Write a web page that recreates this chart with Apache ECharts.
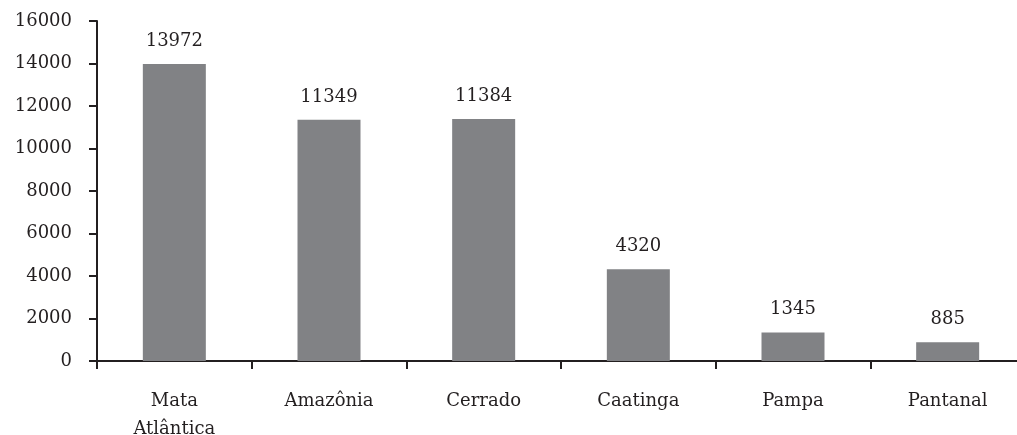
<!DOCTYPE html>
<html><head><meta charset="utf-8">
<script src="https://cdn.jsdelivr.net/npm/echarts@6/dist/echarts.min.js"></script>
<style>html,body{margin:0;padding:0;background:#fff}#c{width:1017px;height:435px}</style>
</head><body><div id="c"></div>
<script>
const categories = ['Mata\nAtlântica', 'Amazônia', 'Cerrado', 'Caatinga', 'Pampa', 'Pantanal'];
const values = [13972, 11349, 11384, 4320, 1345, 885];
const yTicks = { min: 0, max: 16000, interval: 2000 };

const font = 'DejaVu Serif';
const chart = echarts.init(document.getElementById('c'), null, { renderer: 'canvas' });
chart.setOption({
  animation: false,
  backgroundColor: '#fff',
  grid: { left: 97, top: 21, width: 928, height: 340, containLabel: false, outerBoundsMode: 'none' },
  xAxis: {
    type: 'category',
    data: categories,
    axisLine: { lineStyle: { color: '#231f20', width: 2 } },
    axisTick: { show: true, length: 8, lineStyle: { color: '#231f20', width: 2 }, alignWithLabel: false },
    axisLabel: { color: '#231f20', fontFamily: font, fontSize: 18, margin: 26, lineHeight: 28, interval: 0 }
  },
  yAxis: {
    type: 'value',
    min: yTicks.min, max: yTicks.max, interval: yTicks.interval,
    axisLine: { show: true, lineStyle: { color: '#231f20', width: 2 } },
    axisTick: { show: true, length: 8, lineStyle: { color: '#231f20', width: 2 } },
    axisLabel: { color: '#231f20', fontFamily: font, fontSize: 18, margin: 25, formatter: v => String(v) },
    splitLine: { show: false }
  },
  series: [{
    type: 'bar',
    data: values,
    barWidth: 63,
    itemStyle: { color: '#818285' },
    label: { show: true, position: 'top', distance: 14, color: '#231f20', fontFamily: font, fontSize: 18 }
  }]
});
</script></body></html>
